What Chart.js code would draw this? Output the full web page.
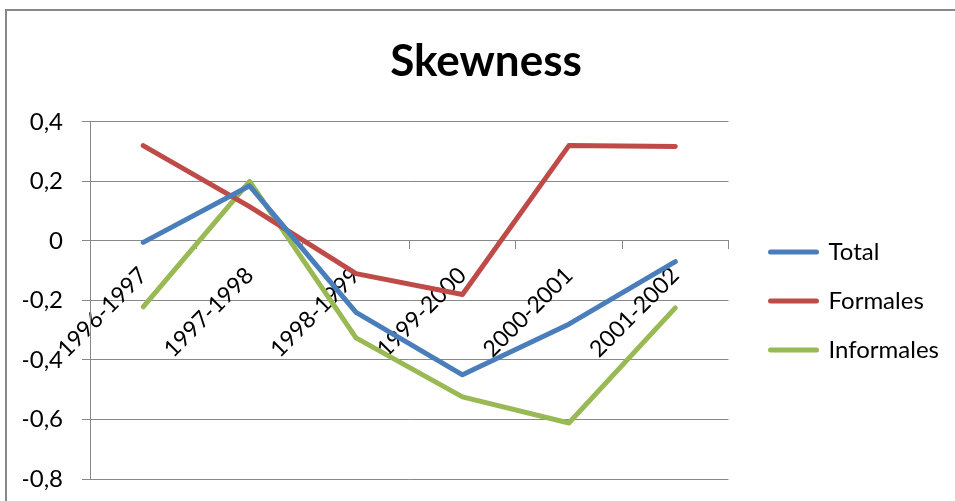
<!DOCTYPE html>
<html>
<head>
<meta charset="utf-8">
<script src="https://cdn.jsdelivr.net/npm/chart.js@4"></script>
<style>
  html, body { margin: 0; padding: 0; background: #fff; overflow: hidden; }
  #frame { position: absolute; left: 5px; top: 9px; width: 1000px; height: 600px; border: 2px solid #888; box-sizing: border-box; }
  #wrap { position: absolute; left: 0; top: 0; width: 955px; height: 501px; }
</style>
</head>
<body>
<div id="frame"></div>
<div id="wrap"><canvas id="c" width="955" height="501"></canvas></div>
<script>
// Skewness per academic year
const categories = ['1996-1997', '1997-1998', '1998-1999', '1999-2000', '2000-2001', '2001-2002'];
const total      = [-0.005, 0.185, -0.24, -0.45, -0.28, -0.07];
const formales   = [0.32, 0.115, -0.11, -0.18, 0.32, 0.317];
const informales = [-0.222, 0.2, -0.326, -0.524, -0.612, -0.225];
const seriesNames = ['Total', 'Formales', 'Informales'];
const yTicks = [0.4, 0.2, 0, -0.2, -0.4, -0.6, -0.8];

const colors = ['#4a7ebb', '#be4b48', '#98b954'];
const FONT = 'Lato, "Liberation Sans", sans-serif';

function fmt(v) {
  if (Math.abs(v) < 1e-9) return '0';
  return v.toFixed(1).replace('.', ',');
}

function noPadding(scale) {
  scale.paddingLeft = 0; scale.paddingRight = 0;
  scale.paddingTop = 0; scale.paddingBottom = 0;
}

const datasets = [total, formales, informales].map((d, i) => ({
  label: seriesNames[i],
  data: d,
  yAxisID: 'y',
  borderColor: colors[i],
  backgroundColor: colors[i],
  borderWidth: 5,
  borderCapStyle: 'round',
  borderJoinStyle: 'round',
  pointRadius: 0,
  tension: 0,
  fill: false
}));

new Chart(document.getElementById('c'), {
  type: 'line',
  data: { labels: categories, datasets },
  options: {
    responsive: false,
    animation: false,
    layout: { padding: { left: 23, right: 6, top: 0, bottom: 22 } },
    plugins: {
      title: {
        display: true,
        text: 'Skewness',
        color: '#000',
        font: { family: FONT, size: 44, weight: 'bold' },
        padding: { top: 35, bottom: 34 }
      },
      legend: {
        position: 'right',
        maxWidth: 300,
        title: { display: true, text: '', font: { size: 10 }, padding: { top: 111, bottom: 0 } },
        labels: {
          color: '#000',
          font: { family: FONT, size: 24 },
          usePointStyle: true,
          pointStyleWidth: 46,
          padding: 25,
          generateLabels(chart) {
            return chart.data.datasets.map((ds, i) => ({
              text: ds.label,
              fillStyle: ds.borderColor,
              strokeStyle: ds.borderColor,
              lineWidth: 5,
              lineCap: 'round',
              pointStyle: 'line',
              hidden: false,
              datasetIndex: i,
              fontColor: '#000'
            }));
          }
        }
      },
      tooltip: { enabled: false }
    },
    scales: {
      x: {
        type: 'category',
        position: { y: 0 },
        offset: true,
        afterFit: noPadding,
        grid: { display: true, drawOnChartArea: false, drawTicks: true, tickLength: 8, offset: true, color: '#888', lineWidth: 1 },
        border: { display: true, color: '#888', width: 1 },
        ticks: {
          color: '#000',
          font: { family: FONT, size: 23 },
          autoSkip: false,
          maxRotation: 45,
          minRotation: 45,
          padding: 13
        }
      },
      y: {
        min: -0.8,
        max: 0.4,
        afterBuildTicks(scale) { scale.ticks = yTicks.map(v => ({ value: v })); },
        afterFit(scale) { noPadding(scale); scale.width = 67; },
        grid: { color: '#888', lineWidth: 1, tickLength: 8 },
        border: { display: true, color: '#888', width: 1 },
        ticks: {
          color: '#000',
          font: { family: FONT, size: 24 },
          padding: 19,
          callback: (v) => fmt(v)
        }
      },
      // empty gap between the plot and the legend
      gap: {
        axis: 'y',
        type: 'linear',
        position: 'right',
        display: true,
        grid: { display: false },
        border: { display: false },
        ticks: { display: false },
        afterFit(scale) { noPadding(scale); scale.width = 17; }
      }
    }
  }
});
</script>
</body>
</html>
